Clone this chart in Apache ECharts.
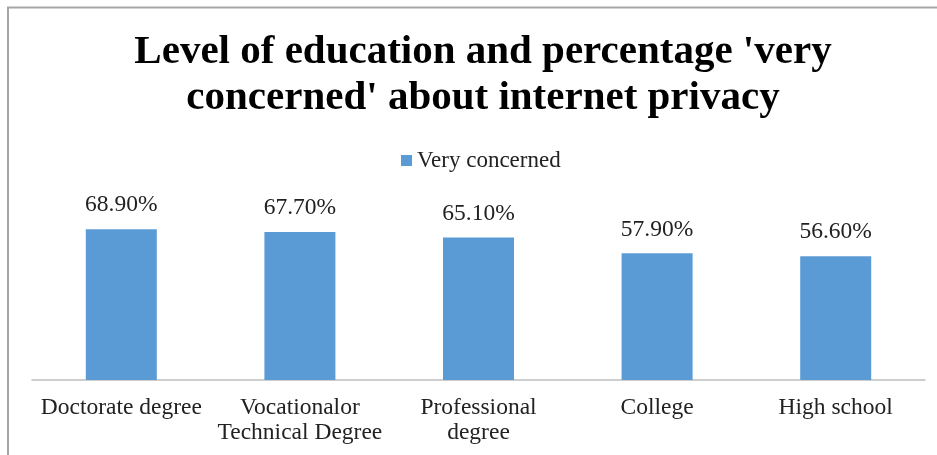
<!DOCTYPE html>
<html>
<head>
<meta charset="utf-8">
<script src="https://cdn.jsdelivr.net/npm/echarts@6/dist/echarts.min.js"></script>
<style>
  html, body { margin: 0; padding: 0; background: #fff; }
  #chart { width: 937px; height: 455px; }
</style>
</head>
<body>
<div id="chart"></div>
<script>
var categories = ['Doctorate degree', 'Vocationalor\nTechnical Degree', 'Professional\ndegree', 'College', 'High school'];
var veryConcerned = [68.9, 67.7, 65.1, 57.9, 56.6];

var serif = '"Liberation Serif", "Times New Roman", serif';
var chart = echarts.init(document.getElementById('chart'));

var option = {
    backgroundColor: '#fff',
    animation: false,
    title: {
        text: "Level of education and percentage 'very\nconcerned' about internet privacy",
        left: 478,
        top: 24,
        textAlign: 'center',
        textStyle: {
            fontFamily: serif,
            fontWeight: 'bold',
            fontSize: 41,
            lineHeight: 46,
            color: '#000'
        }
    },
    legend: {
        data: ['Very concerned'],
        left: 396,
        top: 144,
        icon: 'rect',
        itemWidth: 11,
        itemHeight: 11,
        itemGap: 6,
        textStyle: { fontFamily: serif, fontSize: 23, color: '#222' }
    },
    graphic: [{
        // chart frame (cropped at right and bottom)
        type: 'polyline',
        shape: { points: [[8, 460], [8, 7.5], [945, 7.5]] },
        style: { stroke: '#a6a6a6', lineWidth: 2, fill: null }
    }],
    grid: { left: 32, right: 12, top: 205, bottom: 75 },
    xAxis: {
        type: 'category',
        data: categories,
        axisLine: { lineStyle: { color: '#bfbfbf', width: 1.5 } },
        axisTick: { show: false },
        axisLabel: {
            interval: 0,
            margin: 15,
            fontFamily: serif,
            fontSize: 23.5,
            lineHeight: 25,
            color: '#222'
        }
    },
    yAxis: {
        type: 'value',
        min: 0,
        max: 80,
        show: false,
        splitLine: { show: false }
    },
    series: [{
        name: 'Very concerned',
        type: 'bar',
        data: veryConcerned,
        barWidth: 71,
        itemStyle: { color: '#5b9bd5' },
        label: {
            show: true,
            position: 'top',
            distance: 12,
            fontFamily: serif,
            fontSize: 23.5,
            color: '#222',
            formatter: function (p) { return p.value.toFixed(2) + '%'; }
        }
    }]
};

chart.setOption(option);
</script>
</body>
</html>
